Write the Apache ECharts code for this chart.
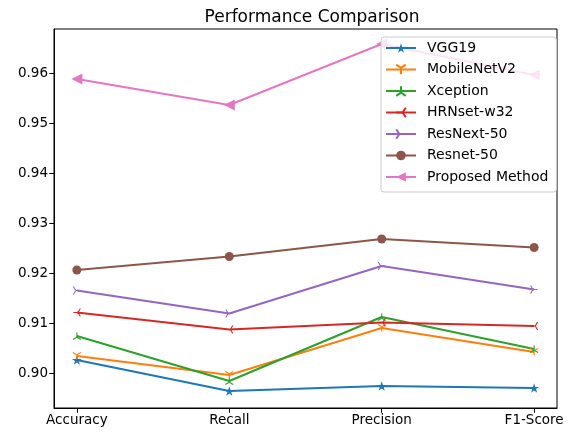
<!DOCTYPE html>
<html>
<head>
<meta charset="utf-8">
<script src="https://cdn.jsdelivr.net/npm/echarts@6/dist/echarts.min.js"></script>
<style>
  html, body { margin: 0; padding: 0; background: #fff; }
  #main { width: 571px; height: 434px; }
</style>
</head>
<body>
<div id="main"></div>
<script>
    var categories = ['Accuracy', 'Recall', 'Precision', 'F1-Score'];
    var yTicks = [0.90, 0.91, 0.92, 0.93, 0.94, 0.95, 0.96];
    var vgg19 = [0.9026, 0.8964, 0.8974, 0.8970];
    var mobilenet = [0.9034, 0.8996, 0.9090, 0.9042];
    var xception = [0.9074, 0.8984, 0.9112, 0.9048];
    var hrnet = [0.9121, 0.9087, 0.9101, 0.9094];
    var resnext = [0.9165, 0.9119, 0.9214, 0.9167];
    var resnet = [0.9206, 0.9233, 0.9268, 0.9251];
    var proposed = [0.9588, 0.9536, 0.9658, 0.9596];

    // matplotlib-like markers
    var star = 'path://M0,-10L2.23,-3.07L9.51,-3.09L3.61,1.17L5.88,8.09L0,3.8L-5.88,8.09L-3.61,1.17L-9.51,-3.09L-2.23,-3.07Z';
    var triDown = 'path://M0,0L0,10M0,0L-8.66,-5M0,0L8.66,-5';
    var triUp = 'path://M0,0L0,-10M0,0L-8.66,5M0,0L8.66,5';
    var triLeft = 'path://M0,0L-10,0M0,0L5,-8.66M0,0L5,8.66';
    var triRight = 'path://M0,0L10,0M0,0L-5,-8.66M0,0L-5,8.66';
    var leftTri = 'path://M0,5L10,0L10,10Z';

    function pts(arr) {
        var out = [];
        for (var i = 0; i < arr.length; i++) out.push([i, arr[i]]);
        return out;
    }

    function line(name, data, color, symbol, size, stroke) {
        return {
            name: name,
            type: 'line',
            data: pts(data),
            symbol: symbol,
            symbolSize: size,
            symbolKeepAspect: true,
            showSymbol: true,
            lineStyle: { color: color, width: 2 },
            itemStyle: stroke ? { color: color, borderColor: color, borderWidth: 1.1 } : { color: color },
            animation: false
        };
    }

    var myChart = echarts.init(document.getElementById('main'));
    var font = 'DejaVu Sans';
    var option = {
        backgroundColor: '#fff',
        textStyle: { fontFamily: font },
        title: {
            text: 'Performance Comparison',
            left: 307,
            textAlign: 'center',
            top: 4,
            textStyle: { fontFamily: font, fontSize: 17, fontWeight: 'normal', color: '#000' }
        },
        grid: {
            left: 54, right: 14, top: 29, bottom: 26,
            show: true, borderColor: '#000', borderWidth: 1, backgroundColor: 'transparent'
        },
        legend: {
            orient: 'vertical',
            left: 381,
            top: 37,
            padding: [4, 8, 8, 4],
            itemWidth: 30,
            itemHeight: 12,
            itemGap: 7.5,
            backgroundColor: 'rgba(255,255,255,0.8)',
            borderColor: '#cccccc',
            borderWidth: 1,
            borderRadius: 3,
            textStyle: { fontFamily: font, fontSize: 14, color: '#000', padding: [0, 0, 0, 6] }
        },
        xAxis: {
            type: 'value',
            min: -0.15,
            max: 3.15,
            splitLine: { show: false },
            axisLine: { show: true, onZero: false, lineStyle: { color: '#000', width: 1 } },
            axisTick: { show: true, length: 4.7, customValues: [0, 1, 2, 3], lineStyle: { color: '#000' } },
            axisLabel: {
                customValues: [0, 1, 2, 3],
                margin: 5,
                fontFamily: font, fontSize: 13.5, color: '#000',
                formatter: function (v) { return categories[Math.round(v)]; }
            }
        },
        yAxis: {
            type: 'value',
            min: 0.893,
            max: 0.9688,
            splitLine: { show: false },
            axisLine: { show: true, onZero: false, lineStyle: { color: '#000', width: 1 } },
            axisTick: { show: true, length: 4.7, customValues: yTicks, lineStyle: { color: '#000' } },
            axisLabel: {
                customValues: yTicks,
                margin: 6,
                fontFamily: font, fontSize: 13.5, color: '#000',
                formatter: function (v) { return v.toFixed(2); }
            }
        },
        series: [
            line('VGG19', vgg19, '#1f77b4', star, 10, false),
            line('MobileNetV2', mobilenet, '#ff7f0e', triDown, 8, true),
            line('Xception', xception, '#2ca02c', triUp, 8, true),
            line('HRNset-w32', hrnet, '#d62728', triLeft, 8, true),
            line('ResNext-50', resnext, '#9467bd', triRight, 8, true),
            line('Resnet-50', resnet, '#8c564b', 'circle', 9, false),
            line('Proposed Method', proposed, '#e377c2', leftTri, 11, false)
        ]
    };
    myChart.setOption(option);
</script>
</body>
</html>
